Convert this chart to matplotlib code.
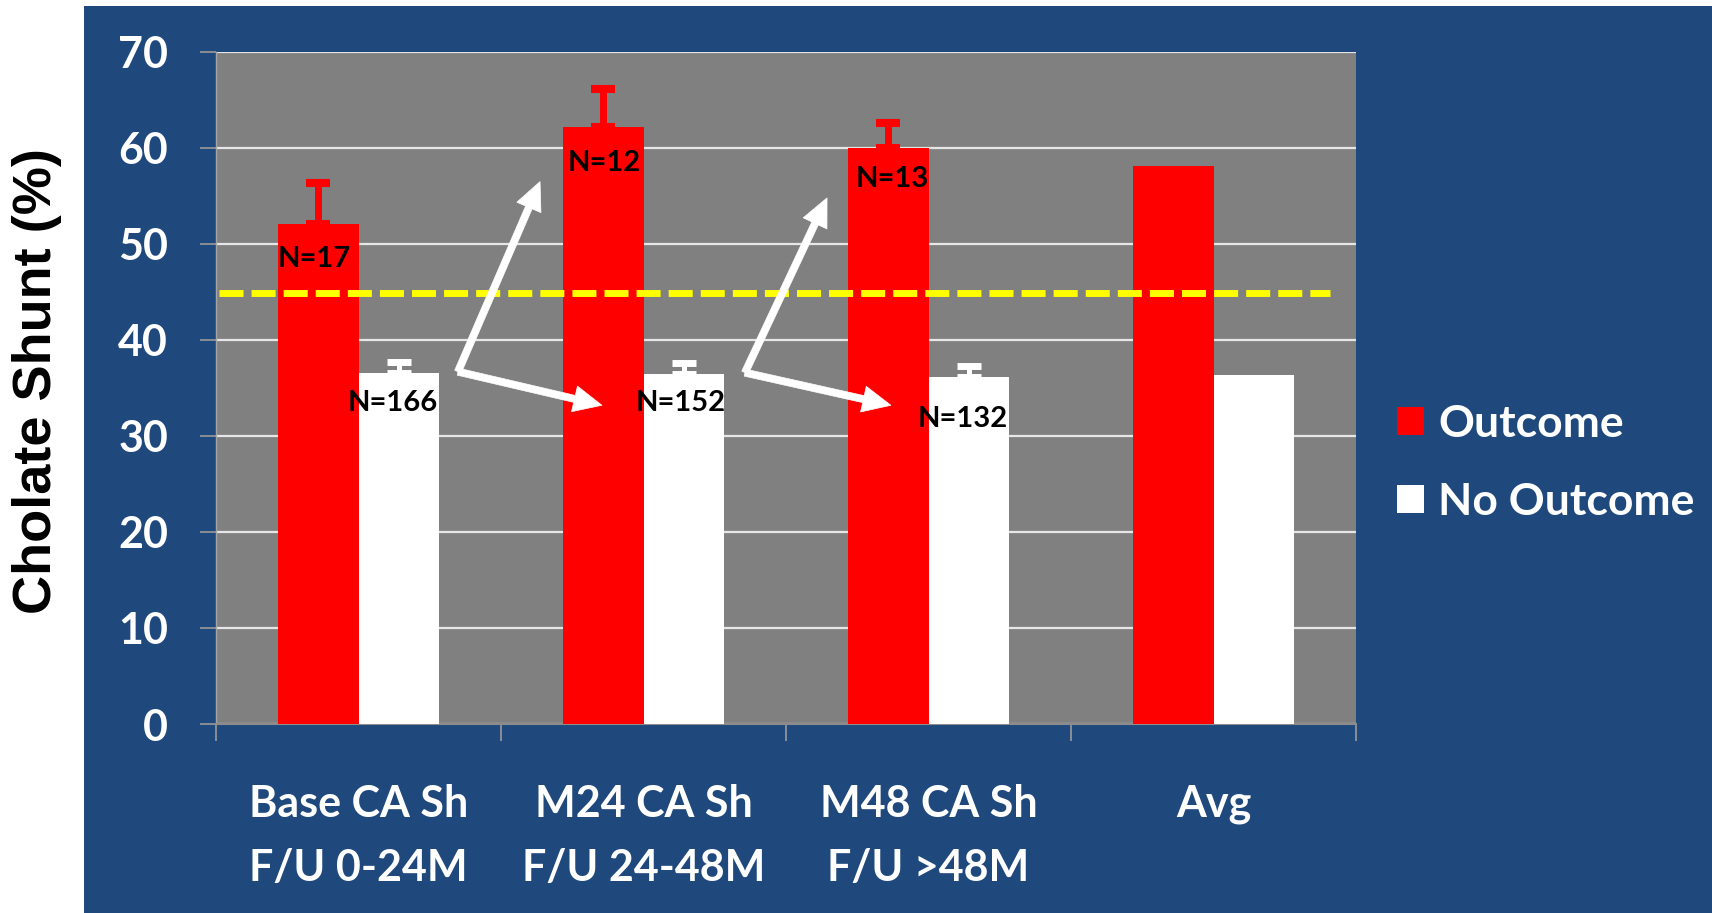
import matplotlib
matplotlib.use('Agg')
import matplotlib.pyplot as plt
from matplotlib.patches import Rectangle, ArrowStyle, Patch
import numpy as np

# ---------------- data ----------------
categories = ['Base CA Sh\nF/U 0-24M', 'M24 CA Sh\nF/U 24-48M', 'M48 CA Sh\nF/U >48M', 'Avg']
outcome = [52.1, 62.2, 60.0, 58.1]
no_outcome = [36.6, 36.5, 36.1, 36.4]
outcome_err = [4.3, 3.9, 2.6]        # first three groups only
no_outcome_err = [1.1, 1.1, 1.2]
outcome_n = ['N=17', 'N=12', 'N=13']
no_outcome_n = ['N=166', 'N=152', 'N=132']
threshold = 44.9
yticks = [0, 10, 20, 30, 40, 50, 60, 70]
series_names = ['Outcome', 'No Outcome']

# annotation placement (data coords)
outcome_n_pos = [(-0.156, 48.4), (0.861, 58.4), (1.872, 56.8)]
no_outcome_n_pos = [(0.121, 33.4), (1.132, 33.4), (2.121, 31.8)]
arrow_sets = [((0.349, 36.7), (0.637, 56.5), (0.854, 33.2)),
              ((1.356, 36.6), (1.644, 54.8), (1.868, 33.2))]

# ---------------- style ----------------
BLUE = '#1F497D'
GRAY = '#808080'
RED = '#FF0000'
WHITE = '#FFFFFF'
FONT = 'Lato'
plt.rcParams['lines.scale_dashes'] = False

W, H = 1712, 913
fig = plt.figure(figsize=(W / 100, H / 100), dpi=100, facecolor='white')
fig.add_artist(Rectangle((84 / W, 0), 1 - 84 / W, (H - 6) / H,
                         transform=fig.transFigure, facecolor=BLUE,
                         edgecolor='none', zorder=-10))

ax = fig.add_axes([216 / W, (H - 724) / H, (1356 - 216) / W, (724 - 52) / H])
ax.set_facecolor(GRAY)

x = np.arange(len(categories))
bw = 0.284
off = 0.142
ax.bar(x - off, outcome, bw, color=RED, zorder=3, label=series_names[0])
ax.bar(x + off, no_outcome, bw, color=WHITE, zorder=3, label=series_names[1])

n = len(outcome_err)
ax.errorbar(x[:n] - off, outcome[:n], yerr=[np.zeros(n), outcome_err], fmt='none',
            ecolor=RED, elinewidth=5, capsize=8.5, capthick=5.8, zorder=4)
ax.errorbar(x[:n] + off, no_outcome[:n], yerr=[np.zeros(n), no_outcome_err], fmt='none',
            ecolor=WHITE, elinewidth=3.6, capsize=8.5, capthick=5, zorder=4)

ax.axhline(threshold, xmin=0.003, xmax=(1330 - 216) / (1356 - 216), color='#FFFF00',
           lw=5, dashes=(17.3, 5.8), zorder=5)

for (px, py), t in zip(outcome_n_pos, outcome_n):
    ax.text(px, py, t, ha='center', va='center', fontsize=21, fontweight='bold',
            family=FONT, color='black', zorder=6)
for (px, py), t in zip(no_outcome_n_pos, no_outcome_n):
    ax.text(px, py, t, ha='center', va='center', fontsize=21, fontweight='bold',
            family=FONT, color='black', zorder=6)

astyle = ArrowStyle('simple', head_length=0.75, head_width=0.7, tail_width=0.19)
for vertex, up, right in arrow_sets:
    for tip in (up, right):
        ax.annotate('', xy=tip, xytext=vertex,
                    arrowprops=dict(arrowstyle=astyle, mutation_scale=27, fc=WHITE,
                                    ec=WHITE, lw=0.5, shrinkA=0, shrinkB=0),
                    zorder=6)

ax.set_xlim(-0.5, 3.5)
ax.set_ylim(0, 70)
ax.set_yticks(yticks)
ax.set_yticklabels([str(v) for v in yticks])
ax.grid(axis='y', color='#E6E6E6', lw=1.6, zorder=1)
ax.set_axisbelow(True)

ax.set_xticks(np.arange(-0.5, 4.0, 1.0))
ax.set_xticklabels([])
ax.set_xticks(x, minor=True)
ax.set_xticklabels(categories, minor=True, fontsize=31, fontweight='bold',
                   family=FONT, color=WHITE, linespacing=1.75)
ax.tick_params(axis='x', which='major', direction='out', length=12, width=1.2,
               color='#9A9A9A')
ax.tick_params(axis='x', which='minor', length=0, pad=43)
ax.tick_params(axis='y', direction='out', length=11.5, width=1.2, color='#9A9A9A',
               pad=23, labelsize=31, labelcolor=WHITE)
for lab in ax.get_yticklabels():
    lab.set_fontweight('bold')
    lab.set_family(FONT)

for s in ['top', 'right']:
    ax.spines[s].set_visible(False)
ax.spines['bottom'].set_color('#8C8C8C')
ax.spines['bottom'].set_linewidth(1.5)
ax.spines['left'].set_color('#A6A6A6')
ax.spines['left'].set_linewidth(1.0)

handles = [Patch(facecolor=RED, edgecolor='none'), Patch(facecolor=WHITE, edgecolor='none')]
leg = fig.legend(handles, series_names, loc='upper left',
                 bbox_to_anchor=(1397 / W, 1 - 404 / H), frameon=False,
                 prop={'family': FONT, 'weight': 'bold', 'size': 32},
                 handlelength=0.6, handleheight=0.6, handletextpad=0.32,
                 labelspacing=0.85, borderpad=0, borderaxespad=0)
for t in leg.get_texts():
    t.set_color(WHITE)

fig.text(37 / W, 1 - 381 / H, 'Cholate Shunt (%)', rotation=90, ha='center', va='center',
         fontsize=39, fontweight='bold', family='Liberation Sans', color='black')

fig.savefig('out.png', dpi=100, facecolor=fig.get_facecolor())
